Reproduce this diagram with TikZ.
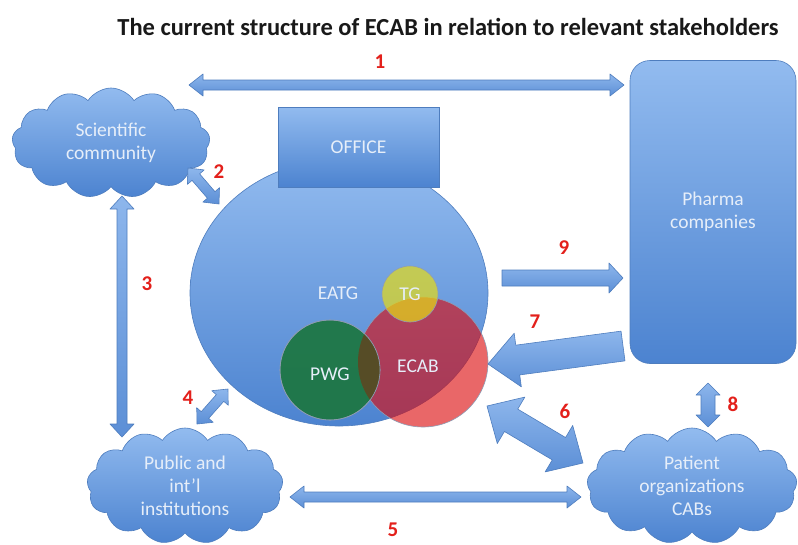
\documentclass[tikz,border=0pt]{standalone}
\usepackage{fontspec}
\setmainfont{Carlito}
\usetikzlibrary{shapes.symbols,shapes.geometric,calc}
\definecolor{lighttop}{HTML}{92BBEF}
\definecolor{darkbot}{HTML}{4C83D0}
\definecolor{edgeblue}{HTML}{4E7DBE}
\definecolor{arrtop}{HTML}{8DB6EC}
\definecolor{arrbot}{HTML}{5C8FD6}
\definecolor{txtc}{HTML}{E6EEF9}
\definecolor{numred}{HTML}{E3201B}
\definecolor{ecabred}{RGB}{220,10,12}
\definecolor{pwggreen}{RGB}{28,118,64}
\definecolor{tgyellow}{RGB}{229,219,24}
\definecolor{overlapc}{RGB}{86,76,38}
\definecolor{circedge}{HTML}{8E9CB4}
\tikzset{
  lbl/.style={text=txtc, font=\fontsize{19.5}{23}\selectfont, align=center},
  cloudbox/.style={cloud, cloud puffs=13, cloud puff arc=115, aspect=1.8,
    top color=lighttop, bottom color=darkbot, draw=edgeblue, line width=0.6pt,
    inner sep=0pt, lbl},
  boxshape/.style={rectangle, top color=lighttop, bottom color=darkbot,
    draw=edgeblue, line width=0.6pt, lbl},
  blockarrow/.style={top color=arrtop, bottom color=arrbot, draw=edgeblue,
    line width=0.6pt, line join=round},
  num/.style={text=numred, font=\fontsize{21}{24}\selectfont\bfseries},
  circ/.style={circle, draw=circedge, line width=0.6pt, inner sep=0pt,
    text opacity=1, lbl},
  titletext/.style={font=\fontsize{24.5}{28}\selectfont\bfseries, text=black!90}
}
\newcommand\dblarr[5]{%
  \coordinate (da1) at ($(#1)!#5!(#2)$);
  \coordinate (da2) at ($(#2)!#5!(#1)$);
  \draw[blockarrow] (#1) -- ($(da1)!#4!90:(#2)$) -- ($(da1)!#3!90:(#2)$)
    -- ($(da2)!#3!-90:(#1)$) -- ($(da2)!#4!-90:(#1)$) -- (#2)
    -- ($(da2)!#4!90:(#1)$) -- ($(da2)!#3!90:(#1)$)
    -- ($(da1)!#3!-90:(#2)$) -- ($(da1)!#4!-90:(#2)$) -- cycle;}
\newcommand\sglarr[5]{%
  \coordinate (sa1) at ($(#2)!#5!(#1)$);
  \draw[blockarrow] ($(#1)!#3!90:(#2)$) -- ($(sa1)!#3!-90:(#1)$)
    -- ($(sa1)!#4!-90:(#1)$) -- (#2) -- ($(sa1)!#4!90:(#1)$)
    -- ($(sa1)!#3!90:(#1)$) -- ($(#1)!#3!-90:(#2)$) -- cycle;}
\begin{document}
\begin{tikzpicture}[x=1pt,y=-1pt]
\useasboundingbox[fill=white] (0,0) rectangle (798,544);

\node[titletext] (title) at (448,27) {The current structure of ECAB in relation to relevant stakeholders};

% stakeholders
\node[cloudbox, minimum width=198pt, minimum height=110pt] (sci) at (111,143) {Scientific\\community};
\node[cloudbox, minimum width=196pt, minimum height=116pt] (pub) at (185,486) {Public and\\int'l\\institutions};
\node[cloudbox, minimum width=210pt, minimum height=116pt] (pat) at (692,486) {Patient\\organizations\\CABs};
\node[boxshape, rounded corners=20pt, minimum width=166pt, minimum height=303pt] (pharma) at (713,212) {Pharma\\companies};

% EATG and its parts
\node[ellipse, top color=lighttop, bottom color=darkbot, draw=edgeblue, line width=0.6pt,
      minimum width=298pt, minimum height=266pt, inner sep=0pt, lbl] (eatg) at (339,293) {};
\node[boxshape, minimum width=161pt, minimum height=80pt] (office) at (358.5,147) {OFFICE};
\node[lbl] (eatgtxt) at (338,293) {EATG};
\node[circ, fill=ecabred, fill opacity=0.62, minimum size=130pt] (ecab) at (423,362) {};
\node[circ, fill=pwggreen, fill opacity=0.92, minimum size=100pt] (pwg) at (330,370) {};
\begin{scope}
  \clip (ecab.center) circle (65pt);
  \fill[overlapc] (pwg.center) circle (50pt);
\end{scope}
\draw[circedge, line width=0.6pt] (pwg.center) circle (50pt);
\node[circ, fill=tgyellow, fill opacity=0.7, minimum size=56pt] (tg) at (410,294) {};
\node[lbl] (tgtxt) at (tg.center) {TG};
\node[lbl] (pwgtxt) at (330,374) {PWG};
\node[lbl] (ecabtxt) at (418,366) {ECAB};

% arrow end points
\coordinate (a1s) at (189,85);  \coordinate (a1e) at (624,85);
\coordinate (a2s) at (188,168); \coordinate (a2e) at (219,204);
\coordinate (a3s) at (122,196); \coordinate (a3e) at (122,437);
\coordinate (a4s) at (197,424); \coordinate (a4e) at (228,389);
\coordinate (a5s) at (290,497); \coordinate (a5e) at (581,497);
\coordinate (a6s) at (487,406); \coordinate (a6e) at (583,463);
\coordinate (a7s) at (623,346); \coordinate (a7e) at (488,364);
\coordinate (a8s) at (708,383); \coordinate (a8e) at (708,427);
\coordinate (a9s) at (502,278); \coordinate (a9e) at (623,278);

\dblarr{a1s}{a1e}{5pt}{11pt}{14pt}
\dblarr{a2s}{a2e}{5pt}{11pt}{12pt}
\dblarr{a3s}{a3e}{5pt}{12pt}{13pt}
\dblarr{a4s}{a4e}{5pt}{11pt}{12pt}
\dblarr{a5s}{a5e}{5pt}{11pt}{14pt}
\dblarr{a6s}{a6e}{13pt}{27pt}{28pt}
\sglarr{a7s}{a7e}{15pt}{27pt}{30pt}
\dblarr{a8s}{a8e}{7pt}{12pt}{12pt}
\sglarr{a9s}{a9e}{8pt}{15pt}{14pt}

% numbers
\node[num] (n1) at (380,62) {1};
\node[num] (n2) at (219,172) {2};
\node[num] (n3) at (147,284) {3};
\node[num] (n4) at (188,398) {4};
\node[num] (n5) at (393,530) {5};
\node[num] (n6) at (565,411) {6};
\node[num] (n7) at (535,322) {7};
\node[num] (n8) at (733,404) {8};
\node[num] (n9) at (564,248) {9};
\end{tikzpicture}
\end{document}
